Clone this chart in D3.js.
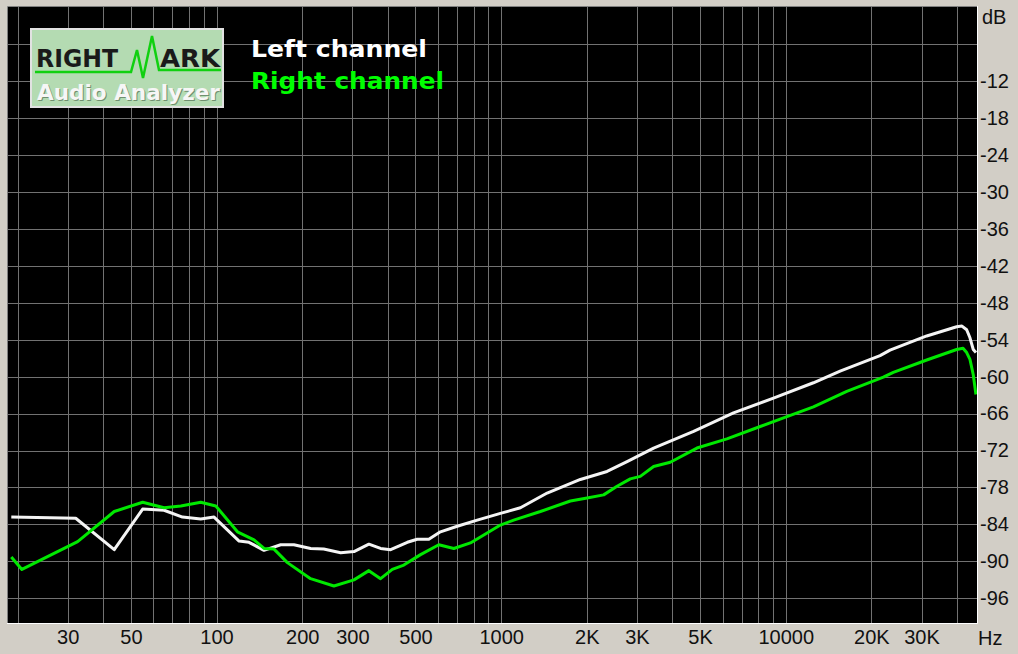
<html>
    <head>
        <style>
body {
    margin: 0;
    background-color: #d2cec6;
}
.chart {
    display: block;
}
.chart .axis text {
    font-family: "Liberation Sans", Arial, sans-serif;
    font-size: 20px;
    fill: #111;
}
.grid line {
    stroke: #727272;
    stroke-width: 1;
    shape-rendering: crispEdges;
}
.curve {
    fill: none;
    stroke-width: 3;
    stroke-linejoin: round;
}
.logo text, .legend text {
    font-family: "DejaVu Sans", Verdana, sans-serif;
    font-weight: bold;
}
        </style>
    </head>
    <body>
<script src="https://d3js.org/d3.v7.min.js"></script>
<script>

// tick labels
const freqTicks = [30, 50, 100, 200, 300, 500, 1000, 2000, 3000, 5000, 10000, 20000, 30000],
    freqLabels = ['30', '50', '100', '200', '300', '500', '1000', '2K', '3K', '5K', '10000', '20K', '30K'],
    dbTicks = [-12, -18, -24, -30, -36, -42, -48, -54, -60, -66, -72, -78, -84, -90, -96],
    dbGrid = [-6, -12, -18, -24, -30, -36, -42, -48, -54, -60, -66, -72, -78, -84, -90, -96];

// left channel (white)
const leftFreq = [19, 32, 43.7, 55, 65.4, 75.9, 88, 98, 120, 130, 146.8, 168, 187, 214, 238, 273, 304, 343, 377, 409,
        468, 507, 557, 612, 701, 824, 994, 1169, 1451, 1898, 2356, 2770, 3434, 4745, 6553, 9055, 12513, 15524, 21450,
        23250, 31290, 39870, 41620, 43230, 44400, 45600, 46600],
    leftDb = [-82.8, -83.0, -88.1, -81.5, -81.7, -82.8, -83.1, -82.8, -86.7, -86.9, -88.2, -87.3, -87.3, -87.9, -88.0,
        -88.6, -88.4, -87.2, -87.9, -88.1, -86.9, -86.4, -86.4, -85.2, -84.3, -83.3, -82.2, -81.3, -78.9, -76.7, -75.4,
        -73.8, -71.6, -68.9, -65.9, -63.5, -61.0, -59.1, -56.6, -55.7, -53.4, -51.9, -51.8, -52.4, -53.7, -55.6, -56.1];

// right channel (green)
const rightFreq = [19, 20.7, 32.5, 43.7, 55, 65.4, 74.9, 88, 99.4, 118.4, 135.4, 146.8, 159.2, 177.4, 214, 258.5, 304,
        343, 377, 414.5, 455, 521, 604, 682, 780, 869, 994, 1107, 1374, 1751, 2004, 2292, 2554, 2843, 3083, 3434, 3930,
        4875, 6214, 8133, 9559, 12513, 16390, 22030, 23880, 31290, 39870, 41960, 43230, 44400, 45600, 46600],
    rightDb = [-89.3, -91.3, -86.8, -81.9, -80.4, -81.3, -81.0, -80.4, -81.0, -85.2, -86.5, -87.9, -88.0, -90.2, -92.8,
        -94.0, -93.0, -91.5, -92.8, -91.3, -90.6, -88.9, -87.3, -87.9, -87.0, -85.7, -84.1, -83.3, -81.9, -80.2, -79.7,
        -79.2, -77.8, -76.6, -76.2, -74.6, -73.9, -71.6, -70.1, -68.1, -66.9, -64.9, -62.4, -60.1, -59.3, -57.3, -55.6,
        -55.4, -56.1, -57.2, -59.7, -62.9];

const
    width = 1018,
    height = 654,
    plot = {left: 8, top: 7, right: 977, bottom: 623};

var svg = d3.select('body')
    .append('svg')
    .classed('chart', true)
    .attr('width', width)
    .attr('height', height);

const x = d3.scaleLog()
    .domain([18.5, 47000])
    .range([plot.left, plot.right]);

const y = d3.scaleLinear()
    .domain([0, -100])
    .range([plot.top, plot.bottom]);

svg.append('defs')
  .append('clipPath')
    .attr('id', 'plotclip')
  .append('rect')
    .attr('x', plot.left)
    .attr('y', plot.top)
    .attr('width', plot.right - plot.left)
    .attr('height', plot.bottom - plot.top);

// black plot area
svg.append('rect')
    .attr('x', plot.left)
    .attr('y', plot.top)
    .attr('width', plot.right - plot.left)
    .attr('height', plot.bottom - plot.top)
    .attr('fill', '#000');

// grid
var grid = svg.append('g')
    .classed('grid', true)
    .attr('clip-path', 'url(#plotclip)');

grid.selectAll('.vline')
    .data(x.ticks())
  .enter().append('line')
    .attr('x1', d => Math.round(x(d)) + 0.5)
    .attr('x2', d => Math.round(x(d)) + 0.5)
    .attr('y1', plot.top)
    .attr('y2', plot.bottom);

grid.selectAll('.hline')
    .data(dbGrid)
  .enter().append('line')
    .attr('x1', plot.left)
    .attr('x2', plot.right)
    .attr('y1', d => Math.round(y(d)) + 0.5)
    .attr('y2', d => Math.round(y(d)) + 0.5);

// sunken frame
svg.append('path')
    .attr('d', `M${plot.left - 0.5},${plot.bottom}V${plot.top - 0.5}H${plot.right}`)
    .attr('fill', 'none')
    .attr('stroke', '#808080');
svg.append('path')
    .attr('d', `M${plot.left - 1},${plot.bottom + 0.5}H${plot.right + 0.5}V${plot.top - 1}`)
    .attr('fill', 'none')
    .attr('stroke', '#ffffff');

// axes (labels only)
svg.append('g')
    .classed('axis', true)
    .attr('transform', `translate(0,${plot.bottom})`)
    .call(d3.axisBottom(x)
        .tickValues(freqTicks)
        .tickFormat((d, i) => freqLabels[i])
        .tickSize(0)
        .tickPadding(7))
    .call(g => g.select('.domain').remove());

svg.append('g')
    .classed('axis', true)
    .attr('transform', `translate(${plot.right},0)`)
    .call(d3.axisRight(y)
        .tickValues(dbTicks)
        .tickFormat(d => d)
        .tickSize(0)
        .tickPadding(3))
    .call(g => g.select('.domain').remove());

svg.selectAll('.axis').attr('font-size', null).attr('font-family', null);

var units = svg.append('g').classed('axis', true);
units.append('text')
    .attr('x', 982)
    .attr('y', 24)
    .text('dB');
units.append('text')
    .attr('x', 978)
    .attr('y', 645)
    .text('Hz');

// curves
const line = d3.line()
    .x(d => x(d[0]))
    .y(d => y(d[1]));

var curves = svg.append('g')
    .attr('clip-path', 'url(#plotclip)');

curves.append('path')
    .classed('curve', true)
    .attr('stroke', '#f4f4f4')
    .attr('d', line(d3.zip(leftFreq, leftDb)));

curves.append('path')
    .classed('curve', true)
    .attr('stroke', '#00e800')
    .attr('d', line(d3.zip(rightFreq, rightDb)));

// legend
var legend = svg.append('g').classed('legend', true);
legend.append('text')
    .attr('x', 251)
    .attr('y', 57)
    .attr('font-size', 23)
    .attr('textLength', 176)
    .attr('lengthAdjust', 'spacingAndGlyphs')
    .attr('fill', '#ffffff')
    .text('Left channel');
legend.append('text')
    .attr('x', 251)
    .attr('y', 89)
    .attr('font-size', 23)
    .attr('textLength', 193)
    .attr('lengthAdjust', 'spacingAndGlyphs')
    .attr('fill', '#00ff00')
    .text('Right channel');

// logo
var logo = svg.append('g').classed('logo', true);

logo.append('rect')
    .attr('x', 31)
    .attr('y', 29)
    .attr('width', 192)
    .attr('height', 78)
    .attr('fill', '#b4dbb2')
    .attr('stroke', '#e2e2e2')
    .attr('stroke-width', 2);

logo.append('text')
    .attr('x', 36)
    .attr('y', 67)
    .attr('font-size', 24)
    .attr('textLength', 82)
    .attr('lengthAdjust', 'spacingAndGlyphs')
    .attr('fill', '#1a1a1a')
    .text('RIGHT');

logo.append('text')
    .attr('x', 160)
    .attr('y', 67)
    .attr('font-size', 24)
    .attr('textLength', 60)
    .attr('lengthAdjust', 'spacingAndGlyphs')
    .attr('fill', '#1a1a1a')
    .text('ARK');

logo.append('path')
    .attr('d', 'M35,72H131L137,50L143,78L152,36L159,70H221')
    .attr('fill', 'none')
    .attr('stroke', '#10d010')
    .attr('stroke-width', 2.5)
    .attr('stroke-linejoin', 'miter');

logo.append('text')
    .attr('x', 38)
    .attr('y', 101)
    .attr('font-size', 22)
    .attr('textLength', 183)
    .attr('lengthAdjust', 'spacingAndGlyphs')
    .attr('fill', '#6f8f6f')
    .text('Audio Analyzer');

logo.append('text')
    .attr('x', 37)
    .attr('y', 100)
    .attr('font-size', 22)
    .attr('textLength', 183)
    .attr('lengthAdjust', 'spacingAndGlyphs')
    .attr('fill', '#f6f6f6')
    .text('Audio Analyzer');

</script>
    </body>
</html>
